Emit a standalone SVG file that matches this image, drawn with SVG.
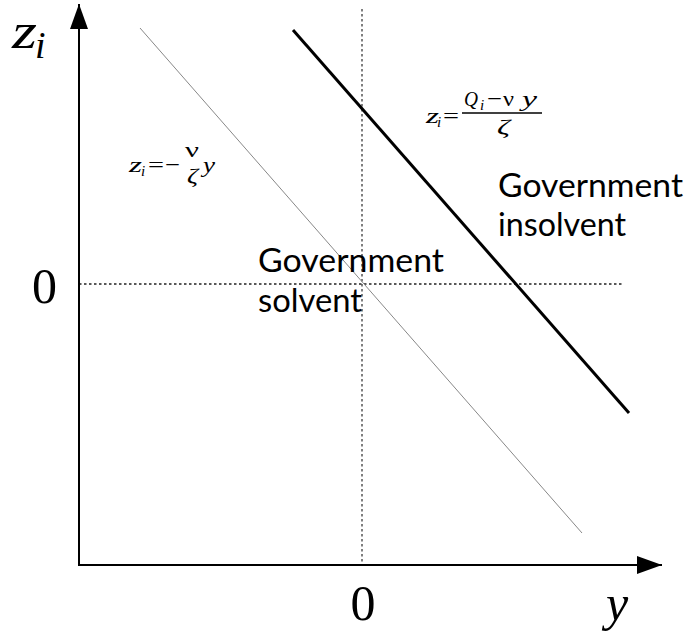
<svg xmlns="http://www.w3.org/2000/svg" width="686" height="635" viewBox="0 0 686 635">
<style>
.math{font-family:"Liberation Serif","DejaVu Serif",serif;font-style:italic;fill:#000}
.num{font-family:"Liberation Serif","DejaVu Serif",serif;fill:#000}
.f{font-size:22px}
.s{font-size:15px}
.lbl{font-family:"Lato","Open Sans",sans-serif;font-size:32px;fill:#000}
.axis{stroke:#000;stroke-width:2;fill:none}
.dot{stroke:#555;stroke-width:1.5;stroke-dasharray:2.5,2.5;fill:none}
</style>
<defs>
<marker id="arr" markerUnits="userSpaceOnUse" markerWidth="26" markerHeight="18" refX="25" refY="9" orient="auto">
<path d="M0,0 L25,9 L0,18 Z" fill="#000"/>
</marker>
</defs>
<rect width="686" height="635" fill="#fff"/>
<g id="connectors">
<line class="dot" x1="362" y1="9" x2="362" y2="565"/>
<line class="dot" x1="79" y1="284" x2="622" y2="284" style="stroke:#222"/>
<line x1="140" y1="28" x2="582" y2="533" stroke="#888" stroke-width="1"/>
<line x1="293" y1="30" x2="629" y2="413" stroke="#000" stroke-width="3"/>
<line class="axis" x1="79" y1="565" x2="79" y2="4" marker-end="url(#arr)"/>
<line class="axis" x1="78" y1="565" x2="662" y2="565" marker-end="url(#arr)"/>
</g>
<g id="axis-labels">
<text class="math" x="12" y="48" font-size="50" textLength="25" lengthAdjust="spacingAndGlyphs">z</text>
<text class="math" x="35" y="58" font-size="38">i</text>
<text class="num" x="44.5" y="303" font-size="50" text-anchor="middle">0</text>
<text class="num" x="363" y="620" font-size="50" text-anchor="middle">0</text>
<text class="math" x="606" y="620" font-size="50">y</text>
</g>
<g id="formula1">
<text class="math f" x="129" y="172" textLength="13" lengthAdjust="spacingAndGlyphs">z</text>
<text class="math s" x="141" y="176">i</text>
<text class="num f" x="148" y="172" textLength="16" lengthAdjust="spacingAndGlyphs">=</text>
<text class="num f" x="165" y="172" textLength="15" lengthAdjust="spacingAndGlyphs">−</text>
<text class="num f" x="185" y="157" textLength="14" lengthAdjust="spacingAndGlyphs">ν</text>
<text class="math f" x="187" y="183" textLength="11" lengthAdjust="spacingAndGlyphs">ζ</text>
<text class="math f" x="203" y="172" textLength="12" lengthAdjust="spacingAndGlyphs">y</text>
</g>
<g id="formula2">
<text class="math f" x="426" y="123" textLength="13" lengthAdjust="spacingAndGlyphs">z</text>
<text class="math s" x="437" y="127">i</text>
<text class="num f" x="443" y="123" textLength="16" lengthAdjust="spacingAndGlyphs">=</text>
<line x1="462" y1="113" x2="542" y2="113" stroke="#000" stroke-width="1.5"/>
<text class="math f" x="464" y="106" textLength="14" lengthAdjust="spacingAndGlyphs">Q</text>
<text class="math s" x="480" y="110">i</text>
<text class="num f" x="487" y="106" textLength="15" lengthAdjust="spacingAndGlyphs">−</text>
<text class="num f" x="503" y="106" textLength="11" lengthAdjust="spacingAndGlyphs">ν</text>
<text class="math f" x="522" y="106" textLength="15" lengthAdjust="spacingAndGlyphs">y</text>
<text class="math f" x="497" y="134" textLength="13" lengthAdjust="spacingAndGlyphs">ζ</text>
</g>
<g id="label-solvent">
<text class="lbl" x="258" y="272" textLength="186" lengthAdjust="spacingAndGlyphs">Government</text>
<text class="lbl" x="258" y="312" textLength="104" lengthAdjust="spacingAndGlyphs">solvent</text>
</g>
<g id="label-insolvent">
<text class="lbl" x="498" y="197" textLength="185" lengthAdjust="spacingAndGlyphs">Government</text>
<text class="lbl" x="498" y="236" textLength="128" lengthAdjust="spacingAndGlyphs">insolvent</text>
</g>
</svg>
